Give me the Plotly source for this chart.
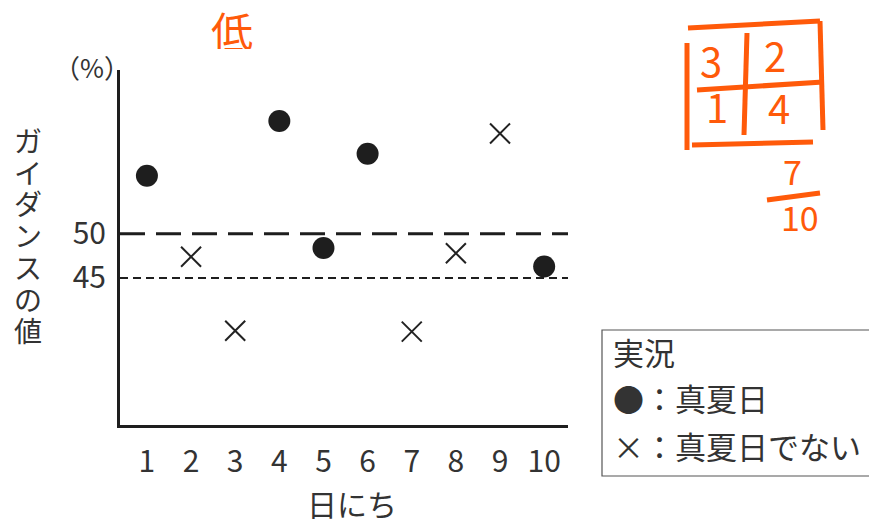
import plotly.graph_objects as go

# data
days = [1, 2, 3, 4, 5, 6, 7, 8, 9, 10]
guidance = [56.6, 47.4, 39.0, 62.8, 48.4, 59.1, 38.9, 47.8, 61.4, 46.3]
hot_day = [True, False, False, True, True, True, False, False, False, True]
y_ticks = [45, 50]

# the page puts the figure 8px in from the top-left corner
OFF = 8
W, H = 877 - OFF, 522 - OFF
L, R, T, B = 120 - OFF, 309, 70 - OFF, 97
PW, PH = W - L - R, H - T - B

JP = "Noto Sans CJK JP"
INK = "#333333"
ORANGE = "#FF5A0A"


# reference-pixel -> paper coordinates
def px(x):
    return (x - 120) / PW


def py(y):
    return (425 - y) / PH


hot_x = [d for d, h in zip(days, hot_day) if h]
hot_y = [v for v, h in zip(guidance, hot_day) if h]
not_x = [d for d, h in zip(days, hot_day) if not h]
not_y = [v for v, h in zip(guidance, hot_day) if not h]

fig = go.Figure()
fig.add_trace(go.Scatter(x=hot_x, y=hot_y, mode="markers",
                         marker=dict(symbol="circle", size=22, color="#1e1e1e"),
                         cliponaxis=False))
fig.add_trace(go.Scatter(x=not_x, y=not_y, mode="markers",
                         marker=dict(symbol="x-thin", size=20,
                                     line=dict(width=2, color="#222222")),
                         cliponaxis=False))

# guidance threshold lines
fig.add_shape(type="line", xref="paper", yref="y", x0=0, x1=1, y0=50, y1=50,
              line=dict(color="#1e1e1e", width=3, dash="25px,11px"))
fig.add_shape(type="line", xref="paper", yref="y", x0=0, x1=1, y0=45, y1=45,
              line=dict(color="#1e1e1e", width=2, dash="8px,5px"))

fig.update_xaxes(range=[0.39, 10.54], tickvals=days, showline=True, linewidth=3,
                 linecolor="#1e1e1e", showgrid=False, zeroline=False, ticks="",
                 tickfont=dict(family=JP, size=30, color=INK), ticklabelstandoff=8)
fig.update_yaxes(range=[28.3, 68.6], tickvals=y_ticks, showline=True, linewidth=3,
                 linecolor="#1e1e1e", showgrid=False, zeroline=False, ticks="",
                 tickfont=dict(family=JP, size=30, color=INK), ticklabelstandoff=5)


def note(txt, x, y, size, color=INK, xanchor="center", yanchor="middle", **kw):
    return dict(x=px(x), y=py(y), xref="paper", yref="paper", showarrow=False,
                xanchor=xanchor, yanchor=yanchor, text=txt,
                font=dict(family=JP, size=size, color=color), **kw)


ann = []
# y axis title, written vertically one character at a time
for i, ch in enumerate("ガイダンスの値"):
    ann.append(note(ch, 28, 140 + 31.7 * i, 28, height=30))
ann.append(note("（%）", 92, 66, 26))
ann.append(note("日にち", 352, 503, 30, height=36))

# legend box
fig.add_shape(type="rect", xref="paper", yref="paper", x0=px(602), x1=px(880),
              y0=py(476), y1=py(330), line=dict(color="#555555", width=1.2))
for txt, yy in [("実況", 351), ("●：真夏日", 397), ("×：真夏日でない", 445)]:
    ann.append(note(txt, 611, yy, 31, xanchor="left"))

# handwritten notes in orange
strokes = [
    ((688, 28), (820, 21)), ((820, 21), (823, 130)), ((687, 43), (687, 150)),
    ((692, 145), (813, 142)), ((747, 33), (744, 135)), ((697, 90), (823, 82)),
    ((767, 200), (820, 193)),
]
for (x0, y0), (x1, y1) in strokes:
    fig.add_shape(type="line", xref="paper", yref="paper", x0=px(x0), y0=py(y0),
                  x1=px(x1), y1=py(y1), line=dict(color=ORANGE, width=5))
for txt, xx, yy, sz in [("3", 711, 60, 40), ("2", 775, 55, 40), ("1", 717, 106, 40),
                        ("4", 779, 107, 40), ("7", 792, 170, 34), ("10", 800, 216, 34)]:
    ann.append(note(txt, xx, yy, sz, color=ORANGE))
ann.append(note("低", 232, 29, 42, color=ORANGE, height=40))
# black underline at the top edge
fig.add_shape(type="line", xref="paper", yref="paper", x0=px(198), x1=px(257),
              y0=py(2), y1=py(2), line=dict(color="#1e1e1e", width=3))

fig.update_layout(width=W, height=H, margin=dict(l=L, r=R, t=T, b=B),
                  plot_bgcolor="white", paper_bgcolor="white", showlegend=False,
                  annotations=ann)

fig.write_html("out.html")
